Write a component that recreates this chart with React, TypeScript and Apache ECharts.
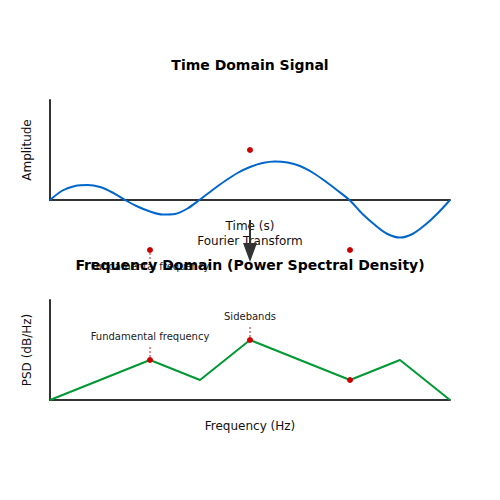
import React, { useEffect, useRef } from "react";
import * as echarts from "echarts";

// Time-domain signal, sampled every 0.0625 s from 0 to 2 s
const timeStep = 0.0625;
const amplitude = [
  0, 0.19, 0.28, 0.3, 0.26, 0.15, 0, -0.13, -0.23, -0.29, -0.28, -0.17, 0.01,
  0.2, 0.38, 0.54, 0.66, 0.74, 0.77, 0.75, 0.68, 0.55, 0.38, 0.19, -0.01,
  -0.28, -0.5, -0.68, -0.75, -0.68, -0.5, -0.27, 0,
];

// Time-domain annotations
const timeMarkT = [0.5, 1.0, 1.5];
const timeMarkV = [-1, 1, -1];
const timeMarkLabel = ["Fundamental frequency", "", ""];

// Frequency-domain PSD
const freqHz = [0, 2, 3, 4, 6, 7, 8];
const psd = [0, 2, 1, 3, 1, 2, 0];

// Frequency-domain annotations
const freqMarkHz = [2, 4, 6];
const freqMarkV = [2, 3, 1];
const freqMarkLabel = ["Fundamental frequency", "Sidebands", ""];

const titles = ["Time Domain Signal", "Frequency Domain (Power Spectral Density)"];
const axisNames = { t: "Time (s)", amp: "Amplitude", f: "Frequency (Hz)", psd: "PSD (dB/Hz)" };
const transformLabel = "Fourier Transform";

const FONT = "DejaVu Sans";
const AXIS = "#333333";

function makeAnnot(labels: string[], dir: number, lineEnd: number, textOff: number) {
  return (params: any, api: any) => {
    const p = api.coord([api.value(0), api.value(1)]);
    const label = labels[params.dataIndex];
    const children: any[] = [];
    if (label) {
      children.push({
        type: "line",
        shape: { x1: p[0], y1: p[1] + dir * 3, x2: p[0], y2: p[1] + dir * lineEnd },
        style: { stroke: "#e06666", lineWidth: 1.5, lineDash: [2, 2] },
      });
      children.push({
        type: "text",
        style: {
          text: label,
          x: p[0],
          y: p[1] + dir * textOff,
          align: "center",
          verticalAlign: "middle",
          fontSize: 10,
          fontFamily: FONT,
          fill: "#222",
        },
      });
    }
    children.push({
      type: "circle",
      shape: { cx: p[0], cy: p[1], r: 3 },
      style: { fill: "#cc0000" },
    });
    return { type: "group", children };
  };
}

export default function App() {
  const ref = useRef<HTMLDivElement>(null);
  useEffect(() => {
    if (!ref.current) return;
    const chart = echarts.init(ref.current, null, { renderer: "svg" });
    const hiddenAxis = {
      axisTick: { show: false },
      axisLabel: { show: false },
      splitLine: { show: false },
      axisLine: { show: true, onZero: false, lineStyle: { color: AXIS, width: 2 } },
      nameLocation: "middle",
      nameTextStyle: { fontSize: 12, color: "#111", fontFamily: FONT },
    };
    chart.setOption({
      animation: false,
      textStyle: { fontFamily: FONT },
      title: [
        {
          text: titles[0],
          left: "center",
          top: 53,
          z: 20,
          textStyle: { fontSize: 14, fontWeight: "bold", color: "#000", fontFamily: FONT },
        },
        {
          text: titles[1],
          left: "center",
          top: 253,
          z: 20,
          textStyle: { fontSize: 14, fontWeight: "bold", color: "#000", fontFamily: FONT },
        },
      ],
      grid: [
        { left: 50, top: 100, width: 400, height: 100 },
        { left: 50, top: 300, width: 400, height: 100 },
      ],
      xAxis: [
        { ...hiddenAxis, type: "value", gridIndex: 0, min: 0, max: 2, name: axisNames.t, nameGap: 20 },
        { ...hiddenAxis, type: "value", gridIndex: 1, min: 0, max: 8, name: axisNames.f, nameGap: 20 },
      ],
      yAxis: [
        { ...hiddenAxis, type: "value", gridIndex: 0, min: 0, max: 2, name: axisNames.amp, nameGap: 17 },
        { ...hiddenAxis, type: "value", gridIndex: 1, min: 0, max: 5, name: axisNames.psd, nameGap: 17 },
      ],
      series: [
        {
          type: "line",
          xAxisIndex: 0,
          yAxisIndex: 0,
          clip: false,
          smooth: 0.3,
          showSymbol: false,
          lineStyle: { color: "#0066cc", width: 2 },
          data: amplitude.map((v, i) => [i * timeStep, v]),
          z: 3,
        },
        {
          type: "line",
          xAxisIndex: 1,
          yAxisIndex: 1,
          showSymbol: false,
          lineStyle: { color: "#009933", width: 2 },
          data: freqHz.map((f, i) => [f, psd[i]]),
          z: 3,
        },
        {
          type: "custom",
          xAxisIndex: 0,
          yAxisIndex: 0,
          clip: false,
          renderItem: makeAnnot(timeMarkLabel, 1, 12, 16),
          data: timeMarkT.map((t, i) => [t, timeMarkV[i]]),
          z: 1,
        },
        {
          type: "custom",
          xAxisIndex: 1,
          yAxisIndex: 1,
          renderItem: makeAnnot(freqMarkLabel, -1, 14, 24),
          data: freqMarkHz.map((f, i) => [f, freqMarkV[i]]),
          z: 4,
        },
      ],
      graphic: [
        {
          type: "text",
          x: 250,
          y: 241,
          z: 10,
          style: {
            text: transformLabel,
            align: "center",
            verticalAlign: "middle",
            fontSize: 12,
            fontFamily: FONT,
            fill: "#111",
          },
        },
        {
          type: "line",
          z: 11,
          shape: { x1: 250, y1: 220, x2: 250, y2: 246 },
          style: { stroke: "#333", lineWidth: 2 },
        },
        {
          type: "polygon",
          z: 11,
          shape: { points: [[243, 243], [257, 243], [250, 262]] },
          style: { fill: "#333" },
        },
      ],
    });
    return () => chart.dispose();
  }, []);
  return (
    <div
      ref={ref}
      style={{ position: "absolute", left: 0, top: 0, width: 500, height: 500 }}
    />
  );
}
